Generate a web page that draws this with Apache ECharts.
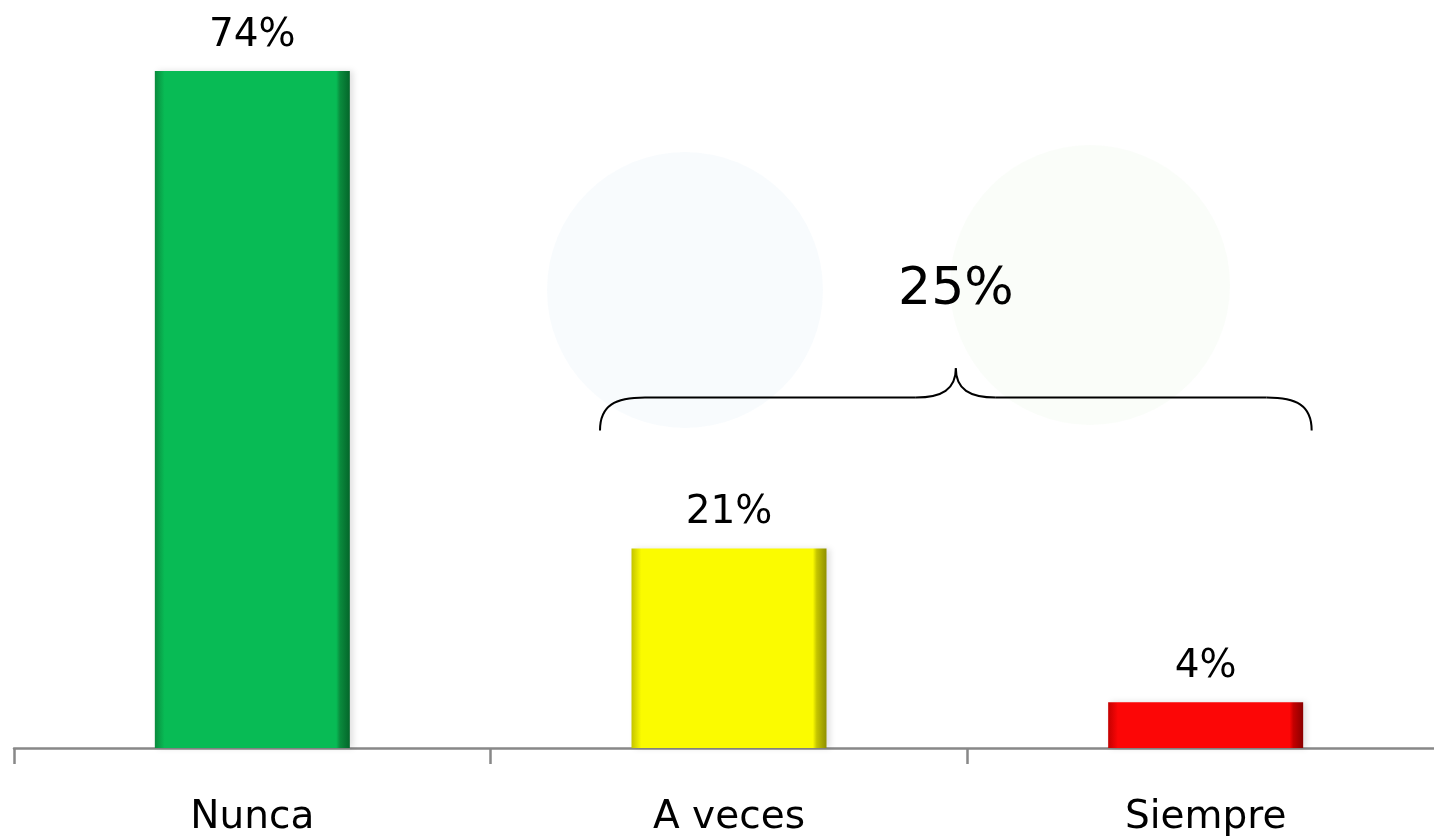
<!DOCTYPE html>
<html>
<head>
<meta charset="utf-8">
<script src="https://cdn.jsdelivr.net/npm/echarts@6/dist/echarts.min.js"></script>
<style>
  html, body { margin: 0; padding: 0; background: #fff; }
  #main { width: 1434px; height: 839px; }
</style>
</head>
<body>
<div id="main"></div>
<script>
// categorias y valores
var categories = ['Nunca', 'A veces', 'Siempre'];
var values = [74, 21.8, 5.0];
var valueLabels = ['74%', '21%', '4%'];
var groupLabel = '25%';

// colores de cada barra: [borde izq, centro, borde der]
var barColors = [
    ['#0a8b3d', '#08bb55', '#04662a'],
    ['#c4c400', '#fbfb00', '#8f8f00'],
    ['#c40000', '#fc0606', '#8a0000']
];

var font = '"DejaVu Sans", Verdana, sans-serif';

function barGradient(c) {
    return new echarts.graphic.LinearGradient(0, 0, 1, 0, [
        {offset: 0, color: c[0]},
        {offset: 0.05, color: c[1]},
        {offset: 0.93, color: c[1]},
        {offset: 0.95, color: c[0]},
        {offset: 1, color: c[2]}
    ]);
}

var myChart = echarts.init(document.getElementById('main'));

myChart.setOption({
    animation: false,
    grid: {left: 14, width: 1430, top: 16, bottom: 91, outerBoundsMode: 'none', containLabel: false},
    xAxis: {
        type: 'category',
        data: categories,
        axisLine: {lineStyle: {color: '#888', width: 2.5}},
        axisTick: {show: true, length: 16, lineStyle: {color: '#888', width: 2.5}},
        axisLabel: {color: '#000', fontSize: 39, fontFamily: font, margin: 50}
    },
    yAxis: {
        type: 'value',
        min: 0,
        max: 80,
        show: false,
        splitLine: {show: false}
    },
    series: [{
        type: 'bar',
        barWidth: 195,
        z: 1,
        data: values.map(function (v, i) {
            return {
                value: v,
                itemStyle: {
                    color: barGradient(barColors[i]),
                    shadowColor: 'rgba(0,0,0,0.12)',
                    shadowBlur: 6,
                    shadowOffsetX: 3
                },
                label: {formatter: valueLabels[i]}
            };
        }),
        label: {
            show: true,
            position: 'top',
            distance: 16,
            color: '#000',
            fontSize: 39,
            fontFamily: font
        }
    }]
});

// llave sobre "A veces" y "Siempre" + etiqueta del total
function drawBrace() {
    var c1 = myChart.convertToPixel({seriesIndex: 0}, [1, 0])[0];
    var c2 = myChart.convertToPixel({seriesIndex: 0}, [2, 0])[0];
    var yEnd = myChart.convertToPixel({seriesIndex: 0}, [0, 34.7])[1];
    var yMid = myChart.convertToPixel({seriesIndex: 0}, [0, 38.3])[1];
    var yTip = myChart.convertToPixel({seriesIndex: 0}, [0, 41.5])[1];
    var xL = c1 - 129, xR = c2 + 106, xT = (xL + xR) / 2;
    var st = {stroke: '#000', lineWidth: 2, fill: null};
    function curve(x1, y1, cx1, cy1, cx2, cy2, x2, y2) {
        return {type: 'bezierCurve', silent: true, z: 10,
            shape: {x1: x1, y1: y1, cpx1: cx1, cpy1: cy1, cpx2: cx2, cpy2: cy2, x2: x2, y2: y2}, style: st};
    }
    function line(x1, y1, x2, y2) {
        return {type: 'line', silent: true, z: 10, shape: {x1: x1, y1: y1, x2: x2, y2: y2}, style: st};
    }
    myChart.setOption({
        graphic: [
            // marca de agua muy tenue
            {type: 'circle', z: -10, silent: true, shape: {cx: 685, cy: 290, r: 138}, style: {fill: 'rgba(225,236,244,0.22)'}},
            {type: 'circle', z: -10, silent: true, shape: {cx: 1090, cy: 285, r: 140}, style: {fill: 'rgba(232,244,228,0.22)'}},
            curve(xL, yEnd, xL, yMid + 8, xL + 15, yMid, xL + 45, yMid),
            line(xL + 45, yMid, xT - 40, yMid),
            curve(xT - 40, yMid, xT - 14, yMid, xT, yMid - 8, xT, yTip),
            curve(xT, yTip, xT, yMid - 8, xT + 14, yMid, xT + 40, yMid),
            line(xT + 40, yMid, xR - 45, yMid),
            curve(xR - 45, yMid, xR - 15, yMid, xR, yMid + 8, xR, yEnd),
            {
                type: 'text', z: 10, silent: true,
                x: xT, y: yTip - 78,
                style: {text: groupLabel, fill: '#000', fontSize: 52, fontFamily: font, align: 'center', verticalAlign: 'middle'}
            }
        ]
    });
}
drawBrace();
</script>
</body>
</html>
